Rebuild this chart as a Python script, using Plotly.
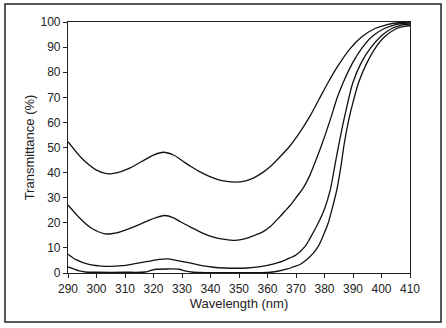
import plotly.graph_objects as go

# Wavelength (nm) and transmittance (%) for the four curves (top to bottom)
wl_1 = [290, 295, 300, 304, 308, 312, 316, 320, 323.5, 327, 330, 333, 336, 340, 344, 348.5,
        352, 355, 358.5, 361, 364.4, 368, 371.5, 375, 378, 381.3, 385, 389, 393, 397.7, 402, 406, 410]
t_1 = [52.3, 45.5, 41, 39.5, 40.2, 42, 44.5, 47, 48.1, 47, 44.8, 42.5, 40.5, 38.3, 36.8, 36.2,
       36.6, 37.8, 40.2, 42.4, 46.3, 50.8, 56.3, 62.7, 69, 76, 83, 89.4, 94, 97.4, 99, 99.7, 100]

wl_2 = [290, 294, 298, 303, 307, 311, 315, 319, 323.9, 327, 329.3, 333, 337, 341, 345, 348.6,
        352, 355, 358.5, 361, 364.4, 366, 368, 370, 372.6, 374.9, 377, 379, 382, 384.5, 386.6,
        390, 393, 397, 401, 405, 410]
t_2 = [27.1, 22, 18, 15.6, 16, 17.5, 19.3, 21.3, 22.9, 22, 20.5, 18.3, 16, 14.3, 13.4, 13,
       13.6, 14.8, 16.5, 18.5, 22.5, 24.5, 27, 30, 34, 39, 45, 51, 61, 70, 76,
       84, 89.4, 94.5, 97.4, 99, 99.7]

wl_3 = [290, 293, 297, 301, 304.7, 309, 313, 318, 322, 325, 328, 332.8, 337, 341, 345, 349,
        353, 357, 360, 364, 367, 370, 373.2, 375, 377.8, 380, 382, 383.5, 385, 387, 390, 393,
        396, 400, 403.6, 407, 410]
t_3 = [7.5, 5.2, 3.5, 2.8, 2.6, 2.9, 3.6, 4.6, 5.4, 5.6, 5, 4, 2.9, 2.3, 2.0, 1.9,
       2.0, 2.4, 3, 4.2, 5.6, 7.2, 10.6, 14, 19.9, 25.5, 33, 42, 51, 62, 76, 84,
       89.4, 94.5, 97.4, 98.8, 99.2]

wl_4 = [290, 292, 294, 296, 300, 310, 317, 319, 321, 325, 329, 331, 334, 340, 350, 358, 361,
        364, 367, 369, 371.4, 373.7, 376, 377.8, 379.6, 381.3, 383, 384.3, 385.7, 387, 388.5,
        390, 392, 395, 397.7, 401, 405.3, 408, 410]
t_4 = [2.4, 1.6, 0.8, 0.4, 0.3, 0.3, 0.4, 1.0, 1.5, 1.6, 1.5, 0.8, 0.3, 0.15, 0.1, 0.15, 0.3,
       0.8, 1.6, 2.4, 3.4, 5.3, 7.8, 10.6, 15, 19.9, 27, 33, 42, 52, 61,
       68, 76, 84, 89.4, 94, 97.4, 98.3, 98.5]

x_ticks = [290, 300, 310, 320, 330, 340, 350, 360, 370, 380, 390, 400, 410]
y_ticks = [0, 10, 20, 30, 40, 50, 60, 70, 80, 90, 100]

fig = go.Figure()
for wl, t in [(wl_1, t_1), (wl_2, t_2), (wl_3, t_3), (wl_4, t_4)]:
    fig.add_trace(go.Scatter(x=wl, y=t, mode="lines",
                             line=dict(color="#111111", width=1.3, shape="spline", smoothing=0.8),
                             showlegend=False, hoverinfo="skip"))

font = dict(family="Liberation Sans, Arial, sans-serif", color="#222222")
fig.update_layout(
    width=446, height=328,
    margin=dict(l=68, r=36, t=22, b=55),
    paper_bgcolor="white", plot_bgcolor="white",
    font=dict(size=12, **font),
    xaxis=dict(range=[290, 410], tickvals=x_ticks, showgrid=False, zeroline=False,
               showline=True, linecolor="#222222", linewidth=1.2, mirror=True,
               ticks="outside", ticklen=4, tickcolor="#222222", tickwidth=1,
               tickfont=dict(size=12, **font),
               title=dict(text="Wavelength (nm)", font=dict(size=13, **font), standoff=4)),
    yaxis=dict(range=[0, 100], tickvals=y_ticks, showgrid=False, zeroline=False,
               showline=True, linecolor="#222222", linewidth=1.2, mirror=True,
               ticks="outside", ticklen=4, tickcolor="#222222", tickwidth=1,
               tickfont=dict(size=12, **font),
               title=dict(text="Transmittance (%)", font=dict(size=13, **font), standoff=2)),
    shapes=[dict(type="rect", xref="paper", yref="paper",
                 x0=(5 - 68) / 342, x1=(441 - 68) / 342,
                 y0=(273 - 322) / 251, y1=(273 - 4) / 251,
                 line=dict(color="#222222", width=1.5), fillcolor="rgba(0,0,0,0)", layer="below")],
)

fig.write_html("out.html")
